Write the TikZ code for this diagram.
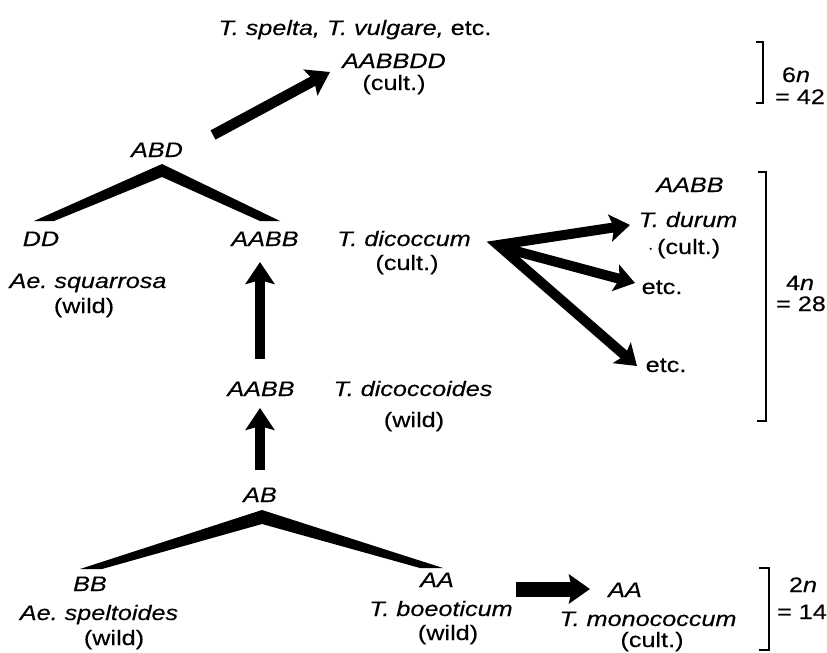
\documentclass[tikz,border=0pt]{standalone}
\usepackage{fontspec}
\setmainfont{Liberation Sans}[FakeStretch=1.2,FakeBold=0.3]
\usetikzlibrary{arrows.meta}
\tikzset{
  fanhead/.tip={Stealth[length=20pt,width=27pt,inset=4pt]},
  bighead/.tip={Stealth[length=22pt,width=29pt,inset=4pt]}
}
\begin{document}
\begin{tikzpicture}[x=1pt,y=-1pt,
  lbl/.style={inner sep=0pt, anchor=base, font=\fontsize{21}{24}\selectfont},
  bigarrow/.style={line width=10.5pt, -{bighead}},
  bracketline/.style={line width=2pt, line join=miter},
  wedge/.style={fill=black}]
\useasboundingbox (0,0) rectangle (827,653);

% ---------- hexaploid level ----------
\node[lbl] (spelta) at (355,35) {\textit{T.\ spelta, T.\ vulgare,} etc.};
\node[lbl] (hexa) at (394,68) {\textit{AABBDD}};
\node[lbl] (hexacult) at (394,90) {(cult.)};
\node[lbl] (sixn) at (796,82) {6\textit{n}};
\node[lbl] (fortytwo) at (800,104) {= 42};
\draw[bracketline] (756,42) -- (763,42) -- (763,103) -- (756,103);

\node[lbl] (abd) at (157,157) {\textit{ABD}};
\coordinate (a1s) at (213,135);
\coordinate (a1e) at (330,72);
\draw[bigarrow] (a1s) -- (a1e);

% wedge below ABD
\fill[wedge] (34,221) -- (162,164) -- (280,221) -- (260,221) -- (162,177) -- (54,221) -- cycle;

% ---------- tetraploid level ----------
\node[lbl] (dd) at (41,246) {\textit{DD}};
\node[lbl] (aabbtop) at (265,246) {\textit{AABB}};
\node[lbl] (dicoccum) at (404,246) {\textit{T.\ dicoccum}};
\node[lbl] (dicult) at (407,270) {(cult.)};
\node[lbl] (squarrosa) at (88,288) {\textit{Ae.\ squarrosa}};
\node[lbl] (sqwild) at (84,313) {(wild)};

\node[lbl] (aabbr) at (690,192) {\textit{AABB}};
\node[lbl] (durum) at (688,227) {\textit{T.\ durum}};
\node[lbl] (durcult) at (684,254) {$\cdot$\,(cult.)};
\node[lbl] (etc1) at (662,294) {etc.};
\node[lbl] (etc2) at (666,372) {etc.};

\node[lbl] (fourn) at (800,290) {4\textit{n}};
\node[lbl] (twentyeight) at (801,311) {= 28};
\draw[bracketline] (758,172) -- (766,172) -- (766,421) -- (757,421);

% fan of arrows from T. dicoccum
\coordinate (fo) at (498,245);
\coordinate (fo2) at (508,249);
\coordinate (f1) at (630,225);
\coordinate (f2) at (635,283);
\coordinate (f3) at (637,366);
\draw[line width=10pt, line join=miter, {fanhead}-{fanhead}] (f1) -- (fo) -- (f3);
\draw[line width=10pt, -{fanhead}] (fo2) -- (f2);

% vertical arrows
\coordinate (u1s) at (260,359);
\coordinate (u1e) at (260,262);
\draw[bigarrow] (u1s) -- (u1e);

\node[lbl] (aabbmid) at (261,396) {\textit{AABB}};
\node[lbl] (dicoccoides) at (413,396) {\textit{T.\ dicoccoides}};
\node[lbl] (dcwild) at (414,427) {(wild)};

\coordinate (u2s) at (260,470);
\coordinate (u2e) at (260,408);
\draw[bigarrow] (u2s) -- (u2e);

% ---------- diploid level ----------
\node[lbl] (ab) at (260,502) {\textit{AB}};
\fill[wedge] (80,569) -- (262,510) -- (443,568) -- (420,568) -- (262,524) -- (102,569) -- cycle;

\node[lbl] (bb) at (90,591) {\textit{BB}};
\node[lbl] (speltoides) at (99,620) {\textit{Ae.\ speltoides}};
\node[lbl] (spwild) at (114,645) {(wild)};

\node[lbl] (aal) at (437,587) {\textit{AA}};
\node[lbl] (boeoticum) at (441,616) {\textit{T.\ boeoticum}};
\node[lbl] (bowild) at (448,640) {(wild)};

\coordinate (hs) at (516,589);
\coordinate (he) at (590,589);
\draw[line width=15pt, -{Stealth[length=21pt,width=29pt,inset=3pt]}] (hs) -- (he);

\node[lbl] (aar) at (625,597) {\textit{AA}};
\node[lbl] (monococcum) at (648,626) {\textit{T.\ monococcum}};
\node[lbl] (mocult) at (652,647) {(cult.)};

\node[lbl] (twon) at (803,592) {2\textit{n}};
\node[lbl] (fourteen) at (802,619) {= 14};
\draw[bracketline] (759,568) -- (769,568) -- (769,650) -- (759,650);
\end{tikzpicture}
\end{document}
